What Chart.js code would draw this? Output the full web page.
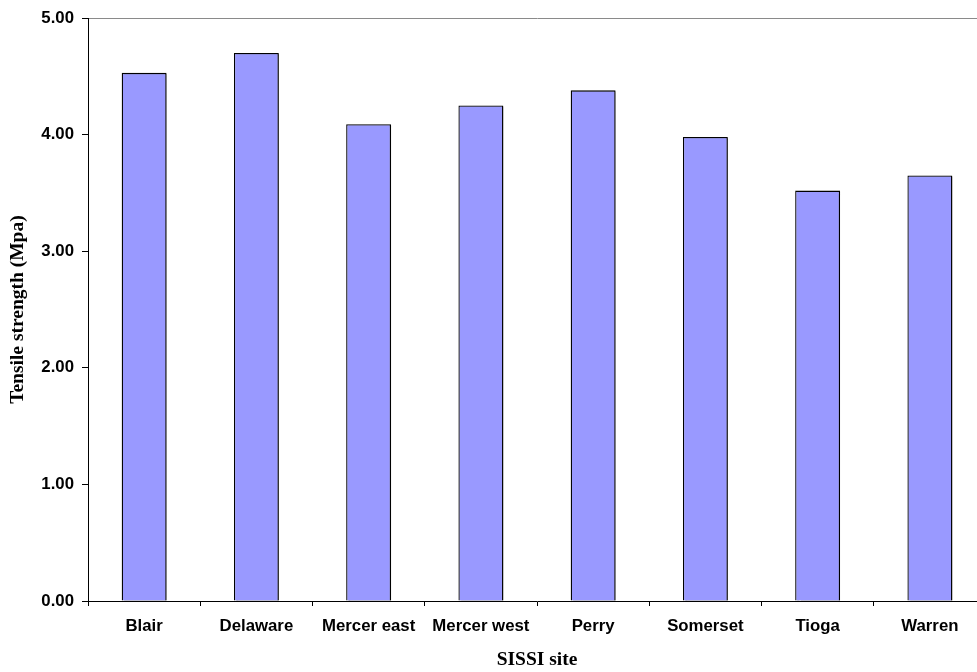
<!DOCTYPE html>
<html>
<head>
<meta charset="utf-8">
<title>Tensile strength by SISSI site</title>
<script src="https://cdn.jsdelivr.net/npm/chart.js@4/dist/chart.umd.min.js"></script>
<style>
    html, body {
        margin: 0;
        padding: 0;
        background: #ffffff;
        overflow: hidden;
    }
    #wrap {
        width: 986px;
        height: 672px;
    }
</style>
</head>
<body>
<div id="wrap">
    <canvas id="tensileChart" width="986" height="672"></canvas>
</div>
<script>
const sites = ['Blair', 'Delaware', 'Mercer east', 'Mercer west', 'Perry', 'Somerset', 'Tioga', 'Warren'];
const tensileStrength = [4.53, 4.70, 4.09, 4.25, 4.38, 3.98, 3.52, 3.65];
const yTicks = [0, 1, 2, 3, 4, 5];

const tickFont = { family: '"Liberation Sans", Arial, sans-serif', size: 16.8, weight: 'bold' };
const titleFont = { family: '"Liberation Serif", "Times New Roman", serif', size: 19.5, weight: 'bold' };

// soft drop shadow behind the bars
const barShadow = {
    id: 'barShadow',
    beforeDatasetsDraw(chart) {
        const ctx = chart.ctx;
        ctx.save();
        ctx.shadowColor = 'rgba(0, 0, 0, 0.45)';
        ctx.shadowOffsetX = 2;
        ctx.shadowOffsetY = 1;
        ctx.shadowBlur = 1;
    },
    afterDatasetsDraw(chart) {
        chart.ctx.restore();
    },
};

new Chart(document.getElementById('tensileChart').getContext('2d'), {
    type: 'bar',
    data: {
        labels: sites,
        datasets: [
            {
                label: 'Tensile strength',
                data: tensileStrength,
                backgroundColor: '#9999ff',
                borderColor: '#000000',
                borderWidth: 1.3,
                borderSkipped: 'bottom',
                barPercentage: 0.4,
                categoryPercentage: 1,
            },
        ],
    },
    options: {
        responsive: false,
        animation: false,
        layout: {
            padding: { top: 16, right: 0, bottom: 0, left: 0 },
        },
        plugins: {
            legend: { display: false },
            tooltip: { enabled: false },
        },
        scales: {
            x: {
                offset: true,
                grid: {
                    offset: true,
                    drawOnChartArea: false,
                    tickLength: 5,
                    tickColor: '#000000',
                },
                border: { color: '#000000', width: 1 },
                ticks: {
                    color: '#000000',
                    font: tickFont,
                    padding: 10,
                    maxRotation: 0,
                    autoSkip: false,
                },
                title: {
                    display: true,
                    text: 'SISSI site',
                    color: '#000000',
                    font: titleFont,
                    padding: { top: 0, bottom: 0 },
                },
                afterFit(scale) {
                    scale.height = 71;
                },
            },
            y: {
                min: 0,
                max: 5,
                afterBuildTicks(scale) {
                    scale.ticks = yTicks.map((value) => ({ value }));
                },
                grid: {
                    color(ctx) {
                        return ctx.tick && ctx.tick.value === 5 ? '#8a8a8a' : 'rgba(0,0,0,0)';
                    },
                    tickColor: '#000000',
                    tickLength: 6,
                    lineWidth: 1,
                },
                border: { color: '#000000', width: 1 },
                ticks: {
                    color: '#000000',
                    font: tickFont,
                    padding: 8,
                    callback(value) {
                        return Number(value).toFixed(2);
                    },
                },
                title: {
                    display: true,
                    text: 'Tensile strength (Mpa)',
                    color: '#000000',
                    font: titleFont,
                    padding: { top: 6, bottom: 0 },
                },
                afterFit(scale) {
                    scale.width = 88;
                },
            },
        },
    },
    plugins: [barShadow],
});
</script>
</body>
</html>
